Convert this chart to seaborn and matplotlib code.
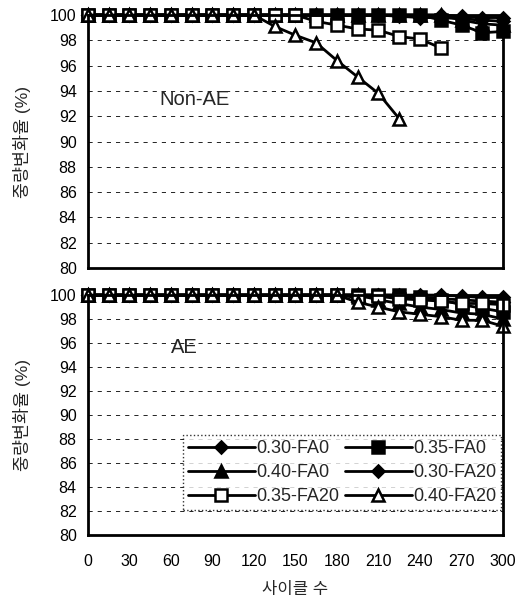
import numpy as np
import pandas as pd
import matplotlib
matplotlib.use("Agg")
import matplotlib.pyplot as plt
import seaborn as sns

cycles = list(range(0, 301, 15))
series_names = ["0.30-FA0", "0.35-FA0", "0.40-FA0", "0.30-FA20", "0.35-FA20", "0.40-FA20"]

# Non-AE panel
nonae_030_fa0 = [100] * 18 + [99.9, 99.8, 99.8]
nonae_035_fa0 = [100] * 17 + [99.6, 99.2, 98.6, 98.7]
nonae_040_fa0 = [100] * 18 + [99.6, 99.3, 99.2]
nonae_030_fa20 = [100] * 15 + [99.9, 99.8, 99.8, 99.7, 99.6, 99.5]
nonae_035_fa20 = [100] * 11 + [99.5, 99.2, 98.9, 98.8, 98.3, 98.1, 97.4]
nonae_040_fa20 = [100] * 9 + [99.1, 98.4, 97.8, 96.4, 95.1, 93.8, 91.8]

# AE panel
ae_030_fa0 = [100] * 18 + [99.9, 99.8, 99.8]
ae_035_fa0 = [100] * 16 + [99.8, 99.6, 99.2, 98.9, 98.6]
ae_040_fa0 = [100] * 14 + [99.6, 99.3, 99.0, 98.8, 98.5, 98.4, 98.0]
ae_030_fa20 = [100] * 15 + [99.9, 99.8, 99.7, 99.6, 99.5, 99.4]
ae_035_fa20 = [100] * 13 + [99.8, 99.9, 99.7, 99.6, 99.5, 99.3, 99.3, 99.2]
ae_040_fa20 = [100] * 13 + [99.4, 99.0, 98.6, 98.4, 98.2, 97.9, 97.9, 97.4]

nonae = [nonae_030_fa0, nonae_035_fa0, nonae_040_fa0, nonae_030_fa20, nonae_035_fa20, nonae_040_fa20]
ae = [ae_030_fa0, ae_035_fa0, ae_040_fa0, ae_030_fa20, ae_035_fa20, ae_040_fa20]

styles = [
    dict(marker="D", markersize=6, markerfacecolor="black"),
    dict(marker="s", markersize=8, markerfacecolor="black"),
    dict(marker="^", markersize=8, markerfacecolor="black"),
    dict(marker="D", markersize=6, markerfacecolor="black"),
    dict(marker="s", markersize=8, markerfacecolor="white"),
    dict(marker="^", markersize=8, markerfacecolor="white"),
]

sns.set_style("white")
plt.rcParams["font.family"] = ["Liberation Sans", "Noto Sans CJK KR"]

fig = plt.figure(figsize=(5.29, 6.01), dpi=100)
ax1 = fig.add_axes([0.166, 0.554, 0.785, 0.421])
ax2 = fig.add_axes([0.166, 0.110, 0.785, 0.399])


def draw_panel(ax, data, label, label_pos):
    for name, vals, st in zip(series_names, data, styles):
        n = len(vals)
        df = pd.DataFrame({"cycle": cycles[:n], "value": vals})
        sns.lineplot(data=df, x="cycle", y="value", ax=ax, color="black", lw=2,
                     markeredgecolor="black", markeredgewidth=1.8, clip_on=False,
                     label=name, **st)
    ax.set_xlim(0, 300)
    ax.set_ylim(80, 100)
    ax.set_yticks(np.arange(80, 101, 2))
    ax.set_xticks(np.arange(0, 301, 30))
    ax.yaxis.grid(True, linestyle=(0, (5, 6)), color="black", lw=0.6)
    ax.tick_params(direction="in", length=4, width=1.5, labelsize=11.5, colors="black")
    ax.tick_params(axis="x", pad=14)
    ax.tick_params(axis="y", pad=8)
    for sp in ax.spines.values():
        sp.set_linewidth(2)
        sp.set_color("black")
    ax.set_ylabel("중량변화율 (%)", fontsize=12.5, labelpad=14)
    ax.set_xlabel("")
    ax.text(label_pos[0], label_pos[1], label, fontsize=14.5, va="center")


draw_panel(ax1, nonae, "Non-AE", (52, 93.3))
draw_panel(ax2, ae, "AE", (60, 95.6))

ax1.tick_params(axis="x", labelbottom=False)
ax1.get_legend().remove()
ax2.set_xlabel("사이클 수", fontsize=12, labelpad=9)

# legend filled row by row: reorder handles for matplotlib's column-first layout
handles, labels = ax2.get_legend_handles_labels()
order = [0, 2, 4, 1, 3, 5]
leg = ax2.legend([handles[i] for i in order], [labels[i] for i in order],
                 ncol=2, loc="lower right", bbox_to_anchor=(0.995, 0.104), frameon=True,
                 fontsize=13, handlelength=3.7, columnspacing=0.3, handletextpad=0.1,
                 labelspacing=0.4, borderpad=0.25, fancybox=False, borderaxespad=0)
leg.get_frame().set_edgecolor("black")
leg.get_frame().set_linestyle(":")
leg.get_frame().set_linewidth(1)

fig.savefig("out.png", dpi=100)
